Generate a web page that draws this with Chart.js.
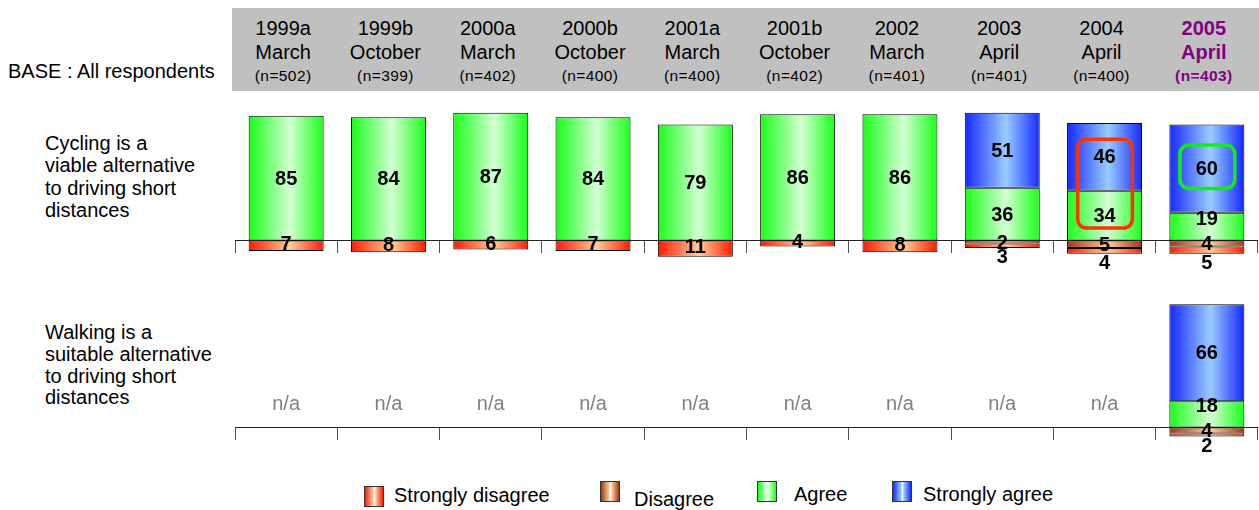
<!DOCTYPE html>
<html>
<head>
<meta charset="utf-8">
<script src="https://cdn.jsdelivr.net/npm/chart.js@4.4.1/dist/chart.umd.min.js"></script>
<style>
  html, body { margin: 0; padding: 0; background: #ffffff; overflow: hidden; width: 1259px; height: 510px; }
  body { position: relative; font-family: "Liberation Sans", Arial, sans-serif; color: #000; }
  #band { position: absolute; left: 232px; top: 8px; width: 1027px; height: 83px; background: #c0c0c0; }
  .t { position: absolute; white-space: nowrap; }
  canvas { position: absolute; }
  .lbox { position: absolute; width: 18px; height: 19px; border: 1px solid #333; }
</style>
</head>
<body>
<div id="band"></div>
<canvas id="cyc" width="1023" height="169" style="left:235px; top:101px; width:1023px; height:169px;"></canvas>
<canvas id="walk" width="1023" height="169" style="left:235px; top:288px; width:1023px; height:169px;"></canvas>
<script>
// ---------- DATA ----------
const categories = ['1999a', '1999b', '2000a', '2000b', '2001a', '2001b', '2002', '2003', '2004', '2005'];
const months = ['March', 'October', 'March', 'October', 'March', 'October', 'March', 'April', 'April', 'April'];
const sampleSizes = [502, 399, 402, 400, 400, 402, 401, 401, 400, 403];

const rowLabels = [
  ['Cycling is a', 'viable alternative', 'to driving short', 'distances'],
  ['Walking is a', 'suitable alternative', 'to driving short', 'distances']
];
const baseLabel = 'BASE : All respondents';
const seriesNames = ['Strongly disagree', 'Disagree', 'Agree', 'Strongly agree'];

const cyclingStronglyDisagree = [7, 8, 6, 7, 11, 4, 8, 3, 4, 5];
const cyclingDisagree        = [null, null, null, null, null, null, null, 2, 5, 4];
const cyclingAgree           = [85, 84, 87, 84, 79, 86, 86, 36, 34, 19];
const cyclingStronglyAgree   = [null, null, null, null, null, null, null, 51, 46, 60];

const walkingStronglyDisagree = [null, null, null, null, null, null, null, null, null, 2];
const walkingDisagree         = [null, null, null, null, null, null, null, null, null, 4];
const walkingAgree            = [null, null, null, null, null, null, null, null, null, 18];
const walkingStronglyAgree    = [null, null, null, null, null, null, null, null, null, 66];

// highlight boxes (value ranges on the Cycling row)
const highlightCategories = ['2004', '2005'];
const highlightFrom = [8.5, 35.5];
const highlightTo = [69, 65];
const highlightColors = ['#ff3300', '#11ee11'];

// ---------- STYLE ----------
const FONT = '"Liberation Sans", Arial, sans-serif';
Chart.defaults.font.family = FONT;
const BAR_PCT = 0.733;
const PALETTE = {
  sd: ['#ff1a00', '#ffcc99'],
  d:  ['#9a3a14', '#ffcc99'],
  a:  ['#18ff18', '#d4ffd4'],
  sa: ['#1428ff', '#99ccff']
};

function grad(role) {
  const [edge, mid] = PALETTE[role];
  return (c) => {
    const chart = c.chart;
    const xs = chart.scales && chart.scales.x;
    if (!xs || c.dataIndex == null || !isFinite(xs.getPixelForValue(c.dataIndex))) return edge;
    const cx = xs.getPixelForValue(c.dataIndex);
    const w = (xs.width / categories.length) * BAR_PCT;
    const g = chart.ctx.createLinearGradient(cx - w / 2, 0, cx + w / 2, 0);
    g.addColorStop(0, edge);
    g.addColorStop(0.55, mid);
    g.addColorStop(1, edge);
    return g;
  };
}

function neg(arr) { return arr.map(v => v == null ? null : -v); }

function buildDatasets(sd, d, a, sa) {
  const common = { borderColor: '#000000', borderWidth: 1, borderSkipped: false, barPercentage: BAR_PCT, categoryPercentage: 1 };
  return [
    Object.assign({ label: seriesNames[1], role: 'd', data: neg(d), backgroundColor: grad('d') }, common),
    Object.assign({ label: seriesNames[0], role: 'sd', data: neg(sd), backgroundColor: grad('sd') }, common),
    Object.assign({ label: seriesNames[2], role: 'a', data: a, backgroundColor: grad('a') }, common),
    Object.assign({ label: seriesNames[3], role: 'sa', data: sa, backgroundColor: grad('sa') }, common)
  ];
}

const segmentLabels = {
  id: 'segmentLabels',
  afterDatasetsDraw(chart) {
    const ctx = chart.ctx;
    const base = chart.scales.y.getPixelForValue(0);
    const dsets = chart.data.datasets;
    ctx.save();
    ctx.textAlign = 'center';
    ctx.textBaseline = 'middle';
    // n/a texts
    ctx.font = '20px ' + FONT;
    ctx.fillStyle = '#808080';
    categories.forEach((cat, i) => {
      const any = dsets.some(ds => ds.data[i] != null);
      if (!any) ctx.fillText('n/a', chart.scales.x.getPixelForValue(i), base - 23);
    });
    ctx.font = 'bold 20px ' + FONT;
    ctx.fillStyle = '#000';
    dsets.forEach((ds, di) => {
      const meta = chart.getDatasetMeta(di);
      meta.data.forEach((el, i) => {
        const v = ds.data[i];
        if (v == null) return;
        const top = Math.min(el.y, el.base), bot = Math.max(el.y, el.base);
        let cy = (top + bot) / 2;
        if (v > 0) {
          cy = Math.min(cy, base - 22);
        } else if (ds.role === 'sd') {
          const hasD = dsets.some(o => o.role === 'd' && o.data[i] != null);
          cy = hasD ? bot + 9 : cy - 2;
        }
        ctx.fillText(String(Math.abs(v)), el.x, cy + 1);
      });
    });
    ctx.restore();
  }
};

const highlightPlugin = {
  id: 'highlights',
  afterDraw(chart, args, opts) {
    if (!opts || !opts.enabled) return;
    const ctx = chart.ctx;
    const xs = chart.scales.x, ys = chart.scales.y;
    const bw = (xs.width / categories.length) * BAR_PCT;
    ctx.save();
    highlightCategories.forEach((cat, k) => {
      const cx = xs.getPixelForValue(categories.indexOf(cat));
      const y1 = ys.getPixelForValue(highlightTo[k]);
      const y2 = ys.getPixelForValue(highlightFrom[k]);
      const w = bw * 0.73;
      ctx.beginPath();
      ctx.lineWidth = 3.5;
      ctx.strokeStyle = highlightColors[k];
      ctx.roundRect(cx - w / 2 + 0.5, y1, w, y2 - y1, 9);
      ctx.stroke();
    });
    ctx.restore();
  }
};

function makeChart(id, datasets, withHighlights) {
  return new Chart(document.getElementById(id), {
    type: 'bar',
    data: { labels: categories, datasets },
    options: {
      responsive: false,
      animation: false,
      devicePixelRatio: 1,
      layout: { padding: 0 },
      plugins: {
        legend: { display: false },
        tooltip: { enabled: false },
        highlights: { enabled: withHighlights }
      },
      scales: {
        x: {
          type: 'category',
          stacked: true,
          offset: true,
          position: { y: 0 },
          grid: { display: true, drawOnChartArea: false, drawTicks: true, tickLength: 12, offset: true, color: '#505050', lineWidth: 1 },
          border: { display: true, color: '#222', width: 1 },
          ticks: { display: false }
        },
        y: {
          stacked: true,
          display: false,
          min: -20,
          max: 95
        }
      }
    },
    plugins: [segmentLabels, highlightPlugin]
  });
}

const cycChart = makeChart('cyc', buildDatasets(cyclingStronglyDisagree, cyclingDisagree, cyclingAgree, cyclingStronglyAgree), true);
const walkChart = makeChart('walk', buildDatasets(walkingStronglyDisagree, walkingDisagree, walkingAgree, walkingStronglyAgree), false);

// ---------- HTML TEXT (header, row labels, legend) ----------
function place(text, x, baseline, size, opts) {
  opts = opts || {};
  const el = document.createElement('div');
  el.className = 't';
  el.textContent = text;
  el.style.fontSize = size + 'px';
  el.style.lineHeight = size + 'px';
  el.style.top = (baseline - size * 0.8465) + 'px';
  el.style.left = x + 'px';
  if (opts.center) el.style.transform = 'translateX(-50%)';
  if (opts.bold) el.style.fontWeight = 'bold';
  if (opts.color) el.style.color = opts.color;
  if (opts.spacing) el.style.letterSpacing = opts.spacing;
  document.body.appendChild(el);
  return el;
}

const canvasLeft = 235;
categories.forEach((cat, i) => {
  const cx = canvasLeft + cycChart.scales.x.getPixelForValue(i) - 3;
  const last = i === categories.length - 1;
  const o = last ? { center: true, bold: true, color: '#800080' } : { center: true };
  place(cat, cx, 35, 20, o);
  place(months[i], cx, 59, 20, o);
  place('(n=' + sampleSizes[i] + ')', cx, 81, 15.5, Object.assign({ spacing: '0.4px' }, o));
});

place(baseLabel, 8, 78, 20);
rowLabels[0].forEach((line, k) => place(line, 45, 150 + k * 22.3, 20));
rowLabels[1].forEach((line, k) => place(line, 45, 339.3 + k * 21.6, 20));

// legend
const legendItems = [
  { name: seriesNames[0], role: 'sd', bx: 364, by: 486, tx: 394, tb: 502 },
  { name: seriesNames[1], role: 'd',  bx: 600, by: 481, tx: 634, tb: 506 },
  { name: seriesNames[2], role: 'a',  bx: 757, by: 481, tx: 794, tb: 501 },
  { name: seriesNames[3], role: 'sa', bx: 892, by: 481, tx: 923, tb: 501 }
];
legendItems.forEach(it => {
  const b = document.createElement('div');
  b.className = 'lbox';
  b.style.left = it.bx + 'px';
  b.style.top = it.by + 'px';
  const [edge, mid] = PALETTE[it.role];
  b.style.background = 'linear-gradient(90deg, ' + edge + ' 0%, ' + mid + ' 45%, #ffffff 52%, ' + mid + ' 60%, ' + edge + ' 100%)';
  document.body.appendChild(b);
  place(it.name, it.tx, it.tb, 20);
});
</script>
</body>
</html>
